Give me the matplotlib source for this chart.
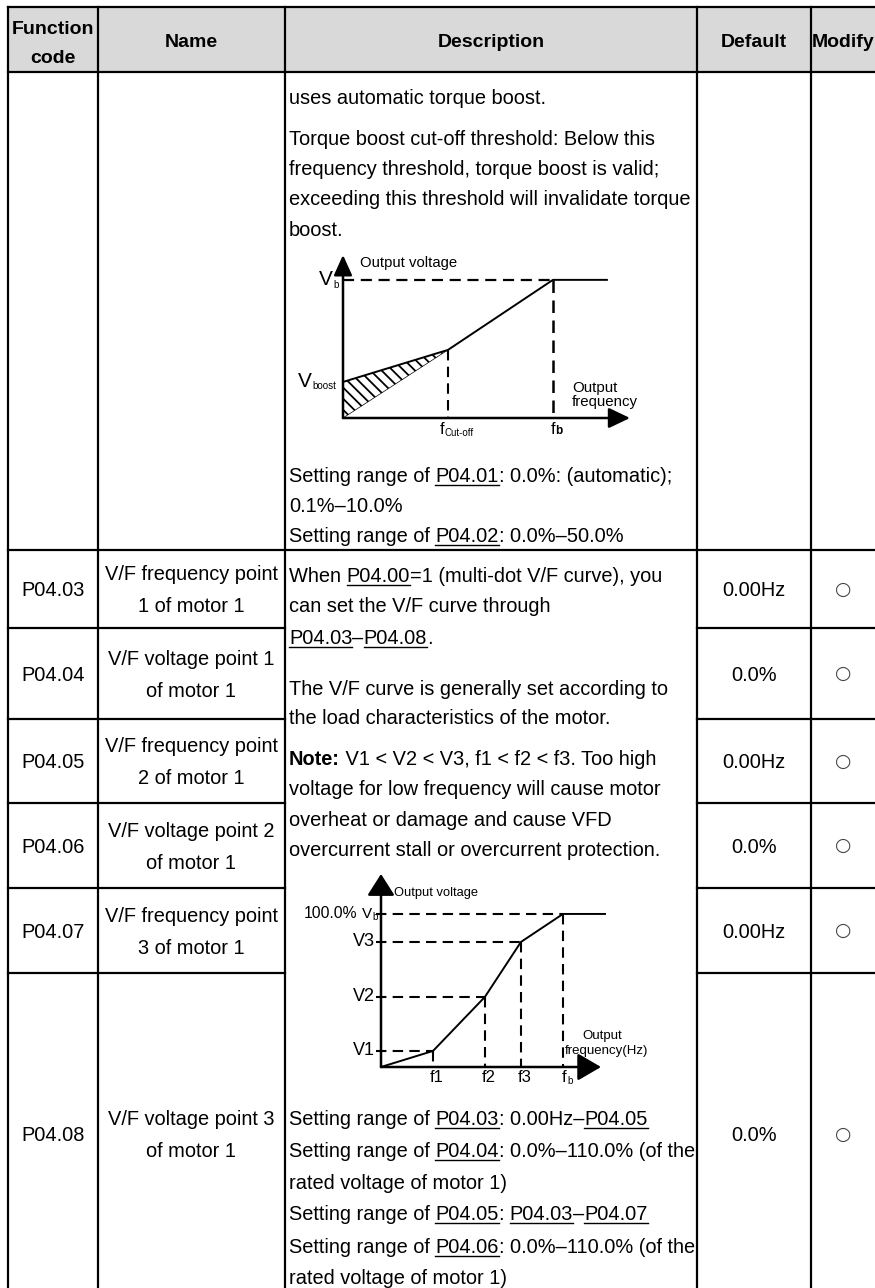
import matplotlib
matplotlib.use("Agg")
import matplotlib.pyplot as plt
from matplotlib.font_manager import FontProperties
from matplotlib.patches import Rectangle

plt.rcParams['font.family'] = ['Liberation Sans', 'DejaVu Sans']
plt.rcParams['hatch.linewidth'] = 1.3

# ---------------- data ----------------
header_labels = ['Function\ncode', 'Name', 'Description', 'Default', 'Modify']
codes = ['P04.03', 'P04.04', 'P04.05', 'P04.06', 'P04.07', 'P04.08']
names = [['V/F frequency point', '1 of motor 1'],
         ['V/F voltage point 1', 'of motor 1'],
         ['V/F frequency point', '2 of motor 1'],
         ['V/F voltage point 2', 'of motor 1'],
         ['V/F frequency point', '3 of motor 1'],
         ['V/F voltage point 3', 'of motor 1']]
defaults = ['0.00Hz', '0.0%', '0.00Hz', '0.0%', '0.00Hz', '0.0%']
modify = ['\u25CB'] * 6

desc_top = [
    [('uses automatic torque boost.', '')],
    [('Torque boost cut-off threshold: Below this', '')],
    [('frequency threshold, torque boost is valid;', '')],
    [('exceeding this threshold will invalidate torque', '')],
    [('boost.', '')],
]
desc_top_after = [
    [('Setting range of ', ''), ('P04.01', 'u'), (': 0.0%: (automatic);', '')],
    [('0.1%\u201310.0%', '')],
    [('Setting range of ', ''), ('P04.02', 'u'), (': 0.0%\u201350.0%', '')],
]
desc_main = [
    [('When ', ''), ('P04.00', 'u'), ('=1 (multi-dot V/F curve), you', '')],
    [('can set the V/F curve through', '')],
    [('P04.03', 'u'), ('\u2013', ''), ('P04.08', 'u'), ('.', '')],
    [('The V/F curve is generally set according to', '')],
    [('the load characteristics of the motor.', '')],
    [('Note:', 'b'), (' V1 < V2 < V3, f1 < f2 < f3. Too high', '')],
    [('voltage for low frequency will cause motor', '')],
    [('overheat or damage and cause VFD', '')],
    [('overcurrent stall or overcurrent protection.', '')],
]
desc_main_after = [
    [('Setting range of ', ''), ('P04.03', 'u'), (': 0.00Hz\u2013', ''), ('P04.05', 'u')],
    [('Setting range of ', ''), ('P04.04', 'u'), (': 0.0%\u2013110.0% (of the', '')],
    [('rated voltage of motor 1)', '')],
    [('Setting range of ', ''), ('P04.05', 'u'), (': ', ''), ('P04.03', 'u'), ('\u2013', ''), ('P04.07', 'u')],
    [('Setting range of ', ''), ('P04.06', 'u'), (': 0.0%\u2013110.0% (of the', '')],
    [('rated voltage of motor 1)', '')],
]

# diagram 1: torque boost (V_boost, f_cut-off, f_b, end)
d1_freq = [0.0, 0.5, 1.0, 1.257]
d1_volt = [0.261, 0.493, 1.0, 1.0]
d1_xmax, d1_ymax = 1.367, 1.18

# diagram 2: multi-dot V/F curve (origin, f1, f2, f3, f_b, end)
d2_freq = [0.0, 0.286, 0.571, 0.769, 1.0, 1.231]
d2_volt = [0.0, 0.105, 0.458, 0.817, 1.0, 1.0]
d2_vlabels = ['V1', 'V2', 'V3']
d2_flabels = ['f1', 'f2', 'f3']
d2_xmax, d2_ymax = 1.209, 1.261

# ---------------- layout ----------------
W, H = 875, 1288
fig = plt.figure(figsize=(W / 100, H / 100), dpi=100)
ax = fig.add_axes([0, 0, 1, 1])
ax.set_xlim(0, W)
ax.set_ylim(H, 0)
ax.axis('off')

col_x = [8, 98, 285, 697, 811, 875]
hdr_top, hdr_bot, row0_bot = 7, 72, 550
row_edges = [550, 628, 719, 803, 888, 973, 1295]
LW = 1.6
FS = 14.4
FAM = ['Liberation Sans', 'DejaVu Sans']

ax.add_patch(Rectangle((col_x[0], hdr_top), col_x[-1] - col_x[0], hdr_bot - hdr_top,
                       facecolor='#d9d9d9', edgecolor='none', zorder=0))

for y in [hdr_top, hdr_bot, row0_bot]:
    ax.plot([col_x[0], col_x[-1]], [y, y], color='k', lw=LW, solid_capstyle='projecting')
for y in row_edges[1:-1]:
    ax.plot([col_x[0], col_x[2]], [y, y], color='k', lw=LW, solid_capstyle='projecting')
    ax.plot([col_x[3], col_x[-1]], [y, y], color='k', lw=LW, solid_capstyle='projecting')
for x in col_x[:-1]:
    ax.plot([x, x], [hdr_top, H + 5], color='k', lw=LW, solid_capstyle='projecting')

col_c = [(a + b) / 2 for a, b in zip(col_x[:-1], col_x[1:])]

# header
hdr_lines = header_labels[0].split('\n')
ax.text(col_c[0], 34, hdr_lines[0], ha='center', va='baseline', fontsize=14, fontweight='bold')
ax.text(col_c[0], 63, hdr_lines[1], ha='center', va='baseline', fontsize=14, fontweight='bold')
for c, lab in zip(col_c[1:], header_labels[1:]):
    ax.text(c, 47, lab, ha='center', va='baseline', fontsize=14, fontweight='bold')

# rows
for i in range(len(codes)):
    yc = (row_edges[i] + row_edges[i + 1]) / 2
    ax.text(col_c[0], yc + 7, codes[i], ha='center', va='baseline', fontsize=FS)
    ax.text(col_c[1], yc - 16 + 7, names[i][0], ha='center', va='baseline', fontsize=FS)
    ax.text(col_c[1], yc + 16 + 7, names[i][1], ha='center', va='baseline', fontsize=FS)
    ax.text(col_c[3], yc + 7, defaults[i], ha='center', va='baseline', fontsize=FS)
    ax.text(col_c[4], yc, modify[i], ha='center', va='center', fontsize=13.5,
            family='DejaVu Sans', color='#444444')

# rich text
renderer = fig.canvas.get_renderer()


def advance(s, weight):
    prop = FontProperties(family=FAM, size=FS, weight=weight)
    w1 = renderer.get_text_width_height_descent('|' + s + '|', prop, ismath=False)[0]
    w0 = renderer.get_text_width_height_descent('||', prop, ismath=False)[0]
    return w1 - w0


def rich_line(x, yc, parts):
    yb = yc + 7
    for txt, st in parts:
        weight = 'bold' if st == 'b' else 'normal'
        ax.text(x, yb, txt, ha='left', va='baseline', fontsize=FS, fontweight=weight)
        w = advance(txt, weight)
        if st == 'u':
            ax.plot([x, x + w], [yb + 2.5, yb + 2.5], color='k', lw=1.0)
        x += w


TX = 289
for parts, yc in zip(desc_top, [97, 138, 168, 198, 229]):
    rich_line(TX, yc, parts)
for parts, yc in zip(desc_top_after, [475, 505, 535]):
    rich_line(TX, yc, parts)
for parts, yc in zip(desc_main, [575, 605, 637, 688, 717, 758, 788, 819, 849]):
    rich_line(TX, yc, parts)
for parts, yc in zip(desc_main_after, [1118, 1150, 1182, 1213, 1246, 1277]):
    rich_line(TX, yc, parts)


def fig_axes(ox, oy, w, h):
    a = fig.add_axes([ox / W, (H - oy) / H, w / W, h / H])
    a.axis('off')
    return a


def arrow(a, xy, hl, hw, lw=1.8):
    a.annotate('', xy=xy, xytext=(0, 0),
               arrowprops=dict(arrowstyle='-|>,head_length=%g,head_width=%g' % (hl, hw),
                               mutation_scale=20, lw=lw, color='k', shrinkA=0, shrinkB=0),
               annotation_clip=False)


def lab(a, s, xy, off, size, ha='left', va='center', weight='normal'):
    a.annotate(s, xy=xy, xytext=off, textcoords='offset pixels', fontsize=size,
               ha=ha, va=va, fontweight=weight, annotation_clip=False)


DASH = (0, (5, 3))

# ---------------- diagram 1 ----------------
a1 = fig_axes(343, 418, 287, 418 - 255)
a1.set_xlim(0, d1_xmax)
a1.set_ylim(0, d1_ymax)
fc, fb = d1_freq[1], d1_freq[2]
vboost, vc, vb = d1_volt[0], d1_volt[1], d1_volt[2]
a1.fill([0, 0, fc], [0, vboost, vc], facecolor='none', edgecolor='k', hatch='\\\\\\', lw=0, clip_on=False)
a1.plot([0, fc], [0, vc], color='k', lw=0.5, clip_on=False)
a1.plot(d1_freq, d1_volt, color='k', lw=1.4, clip_on=False)
a1.plot([0, fb], [vb, vb], color='k', lw=1.6, ls=DASH, clip_on=False)
a1.plot([fb, fb], [vb, 0], color='k', lw=1.8, ls=DASH, clip_on=False)
a1.plot([fc, fc], [vc, 0], color='k', lw=1.5, ls=DASH, clip_on=False)
arrow(a1, (d1_xmax, 0), 0.65, 0.31)
arrow(a1, (0, d1_ymax), 0.62, 0.28)
lab(a1, 'Output voltage', (0, d1_ymax), (17, -8), 10.7)
lab(a1, 'V', (0, vb), (-10, 0), 15, ha='right')
lab(a1, 'b', (0, vb), (-10, -5), 7)
lab(a1, 'V', (0, vboost), (-31, 0), 15, ha='right')
lab(a1, 'boost', (0, vboost), (-31, -4), 7)
lab(a1, 'Output', (fb, 0), (19, 30), 10.8)
lab(a1, 'frequency', (fb, 0), (19, 16), 10.8)
lab(a1, 'f', (fc, 0), (-8, -12), 12)
lab(a1, 'Cut-off', (fc, 0), (-3, -15), 7)
lab(a1, 'f', (fb, 0), (-2, -11), 12)
lab(a1, 'b', (fb, 0), (2, -13), 8.5, weight='bold')

# ---------------- diagram 2 ----------------
a2 = fig_axes(381, 1067, 220, 1067 - 874)
a2.set_xlim(0, d2_xmax)
a2.set_ylim(0, d2_ymax)
a2.plot(d2_freq, d2_volt, color='k', lw=1.4, clip_on=False)
for f, v in zip(d2_freq[1:5], d2_volt[1:5]):
    a2.plot([-0.03, f], [v, v], color='k', lw=1.5, ls=DASH, clip_on=False)
    a2.plot([f, f], [v, 0], color='k', lw=1.5, ls=DASH, clip_on=False)
arrow(a2, (d2_xmax, 0), 0.72, 0.42)
arrow(a2, (0, d2_ymax), 0.66, 0.42)
lab(a2, 'Output voltage', (0, d2_ymax), (13, -19), 9.3)
lab(a2, '100.0%', (0, d2_volt[4]), (-24, 0), 11.3, ha='right')
lab(a2, 'V', (0, d2_volt[4]), (-9, 0), 11, ha='right')
lab(a2, 'b', (0, d2_volt[4]), (-9, -3), 7)
for v, s in zip(d2_volt[1:4], d2_vlabels):
    lab(a2, s, (0, v), (-6, 0), 13, ha='right')
for f, s in zip(d2_freq[1:4], d2_flabels):
    lab(a2, s, (f, 0), (4, -11), 12, ha='center')
lab(a2, 'f', (d2_freq[4], 0), (-1, -11), 12)
lab(a2, 'b', (d2_freq[4], 0), (4, -14), 7)
lab(a2, 'Output', (d2_freq[4], 0), (39, 31), 9.5, ha='center')
lab(a2, 'frequency(Hz)', (d2_freq[4], 0), (2, 16), 9.5)

fig.savefig('out.png', dpi=100)
